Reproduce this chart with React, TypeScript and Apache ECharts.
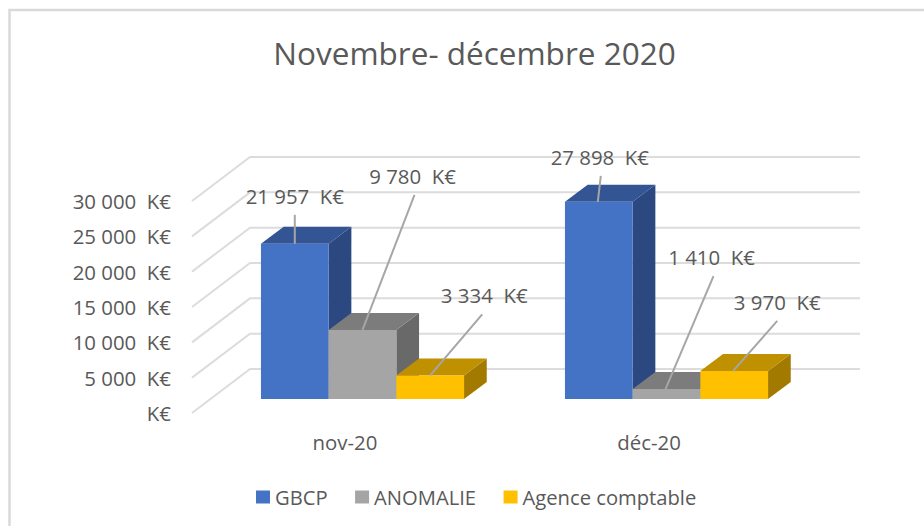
import React, { useEffect, useRef } from "react";
import * as echarts from "echarts";

const categories = ["nov-20", "déc-20"];
const gbcp = [21957, 27898];
const anomalie = [9780, 1410];
const agence = [3334, 3970];
const valueLabels = {
  GBCP: ["21 957  K€", "27 898  K€"],
  ANOMALIE: ["9 780  K€", "1 410  K€"],
  "Agence comptable": ["3 334  K€", "3 970  K€"],
};
const yTicks = [0, 5000, 10000, 15000, 20000, 25000, 30000];
const FONT = "'Open Sans', sans-serif";

const BAR_W = 67.7;
const DEPTH = [22.7, -17];
const FLOOR = [18.5, -14];
const WALL = [58, -44];

export default function App() {
  const ref = useRef<HTMLDivElement>(null);
  useEffect(() => {
    const chart = echarts.init(ref.current!, undefined, { renderer: "svg" });

    const barSeries = (name: string, values: number[], idx: number, front: string, top: string, side: string, leaders: number[][]) => ({
      type: "custom",
      name,
      itemStyle: { color: front },
      z: 3 + idx,
      data: values.map((v, i) => [i, v]),
      encode: { x: 0, y: 1 },
      renderItem: (params: any, api: any) => {
        const i = api.value(0);
        const [cx, yt0] = api.coord([i, api.value(1)]);
        const [, yb0] = api.coord([i, 0]);
        const x0 = cx + (idx - 1.5) * BAR_W;
        const x1 = x0 + BAR_W;
        const yTop = yt0 + FLOOR[1];
        const yBase = yb0 + FLOOR[1];
        const [dx, dy] = DEPTH;
        const mid = (x0 + x1) / 2;
        const [startDx, endDy, endDx, labelDx] = leaders[i];
        return {
          type: "group",
          children: [
            { type: "polygon", shape: { points: [[x1, yBase], [x1 + dx, yBase + dy], [x1 + dx, yTop + dy], [x1, yTop]] }, style: { fill: side } },
            { type: "polygon", shape: { points: [[x0, yTop], [x0 + dx, yTop + dy], [x1 + dx, yTop + dy], [x1, yTop]] }, style: { fill: top } },
            { type: "rect", shape: { x: x0, y: yTop, width: BAR_W, height: yBase - yTop }, style: { fill: front } },
            { type: "line", shape: { x1: mid + startDx, y1: yTop, x2: mid + startDx + endDx, y2: yTop + endDy }, style: { stroke: "#a6a6a6", lineWidth: 2 } },
            {
              type: "text",
              x: mid + startDx + labelDx,
              y: yTop + endDy - 19,
              style: { text: (valueLabels as any)[name][i], font: `20.4px ${FONT}`, fill: "#595959", textAlign: "center", textVerticalAlign: "middle" },
            },
          ],
        };
      },
    });

    chart.setOption({
      animation: false,
      backgroundColor: "#fff",
      title: {
        text: "Novembre- décembre 2020",
        left: 469.5,
        top: 31,
        textAlign: "center",
        textStyle: { fontFamily: FONT, fontWeight: "normal", fontSize: 31.5, color: "#595959" },
      },
      legend: {
        left: 251,
        top: 482,
        itemWidth: 14,
        itemHeight: 13,
        itemGap: 27.5,
        icon: "rect",
        data: ["GBCP", "ANOMALIE", "Agence comptable"],
        textStyle: { fontFamily: FONT, fontSize: 20.2, color: "#595959" },
      },
      grid: { left: 210.5, width: 608, top: 201, height: 212, containLabel: false },
      xAxis: {
        type: "category",
        data: categories,
        axisLine: { show: false },
        axisTick: { show: false },
        axisLabel: { margin: 19, padding: [0, 35, 0, 0], fontFamily: FONT, fontSize: 20.4, color: "#595959" },
      },
      yAxis: {
        type: "value",
        min: 0,
        max: 30000,
        interval: 5000,
        offset: 18.5,
        axisLine: { show: false },
        axisTick: { show: false },
        splitLine: { show: false },
        axisLabel: {
          margin: 21,
          fontFamily: FONT,
          fontSize: 20.4,
          color: "#595959",
          formatter: (v: number) => (v === 0 ? "K€" : `${String(v).slice(0, -3)} 000  K€`),
        },
      },
      graphic: [
        { type: "polyline", shape: { points: [[9.5, 526], [9.5, 10], [924, 10]] }, style: { stroke: "#d9d9d9", fill: "none", lineWidth: 2.5 }, silent: true },
      ],
      series: [
        {
          type: "custom",
          name: "grid",
          z: 1,
          data: yTicks.map((v) => [0, v]),
          encode: { y: 1 },
          renderItem: (params: any, api: any) => {
            const [, y] = api.coord([0, api.value(1)]);
            const xf = params.coordSys.x - FLOOR[0];
            return {
              type: "polyline",
              shape: { points: [[xf, y], [xf + WALL[0], y + WALL[1]], [params.coordSys.x + params.coordSys.width + 41.5, y + WALL[1]]] },
              style: { stroke: "#dcdcdc", fill: "none", lineWidth: 2 },
            };
          },
        },
        barSeries("GBCP", gbcp, 0, "#4472c4", "#335593", "#2b4880", [[0, -29, 0, 0], [-1, -26, 3, 2]]),
        barSeries("ANOMALIE", anomalie, 1, "#a5a5a5", "#7c7c7c", "#696969", [[0, -135, 52, 50], [-1, -113, 48, 46]]),
        barSeries("Agence comptable", agence, 2, "#ffc000", "#bf9000", "#a37a00", [[0, -61, 52, 54], [-1, -50, 44, 44]]),
      ],
    });
    return () => chart.dispose();
  }, []);
  return <div ref={ref} style={{ width: 924, height: 526, position: "fixed", left: 0, top: 0 }} />;
}
